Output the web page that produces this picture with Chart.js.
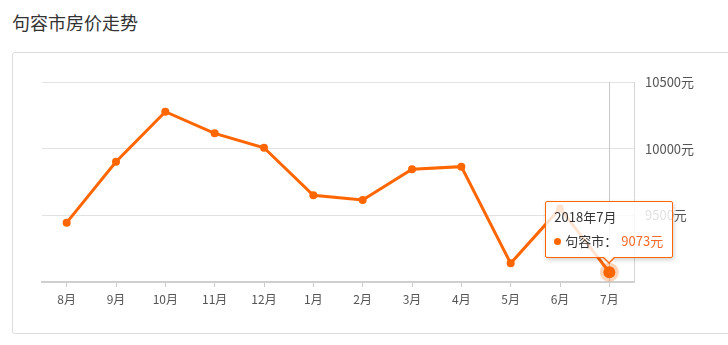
<!DOCTYPE html>
<html>
<head>
<meta charset="utf-8">
<script src="https://cdn.jsdelivr.net/npm/chart.js@4.4.1/dist/chart.umd.min.js"></script>
<style>
  html, body { margin: 0; padding: 0; background: #fff; width: 728px; height: 345px; overflow: hidden; }
  body { position: relative; font-family: "Noto Sans CJK SC", "Noto Sans", sans-serif; }
  #title { position: absolute; left: 12px; top: 9px; font-size: 18px; color: #333; line-height: 26px; }
  #card { position: absolute; left: 12px; top: 52px; width: 730px; height: 280px; border: 1px solid #ddd; border-radius: 3px; }
  #c { position: absolute; left: 0; top: 0; }
  #tip { position: absolute; background: rgba(255,255,255,0.82); border: 1px solid rgb(255,102,0); border-radius: 2px;
         box-shadow: 1px 2px 4px rgba(0,0,0,0.18); padding: 5px 9px 6px 8px; font-size: 13px; color: #333;
         white-space: nowrap; pointer-events: none; display: none; }
  #tip .t { line-height: 20px; }
  #tip .b { line-height: 20px; margin-top: 4px; }
  #tip .dot { display: inline-block; width: 7px; height: 7px; border-radius: 50%; background: #f60; margin-right: 4px; vertical-align: 1px; }
  #tip .v { color: #f5692a; margin-left: 4px; }
  #tip::before { content: ""; position: absolute; left: 50%; bottom: -7px; margin-left: -7px; border-left: 7px solid transparent; border-right: 7px solid transparent; border-top: 7px solid rgb(255,102,0); }
  #tip::after { content: ""; position: absolute; left: 50%; bottom: -5px; margin-left: -6px; border-left: 6px solid transparent; border-right: 6px solid transparent; border-top: 6px solid rgba(255,255,255,0.95); }
</style>
</head>
<body>
<div id="title">句容市房价走势</div>
<div id="card"></div>
<canvas id="c" width="728" height="345"></canvas>
<div id="tip"></div>
<script>
const seriesName = '句容市';
const months = ['8月','9月','10月','11月','12月','1月','2月','3月','4月','5月','6月','7月'];
const periods = ['2017年8月','2017年9月','2017年10月','2017年11月','2017年12月','2018年1月','2018年2月','2018年3月','2018年4月','2018年5月','2018年6月','2018年7月'];
const prices = [9445, 9902, 10277, 10115, 10007, 9650, 9615, 9845, 9865, 9140, 9552, 9073];
const yTicks = [9000, 9500, 10000, 10500];
const unit = '元';
const activeIndex = 11;

const ORANGE = '#f60';

const crosshair = {
  id: 'crosshair',
  beforeDatasetsDraw(chart) {
    const act = chart.getActiveElements();
    if (!act.length) return;
    const x = act[0].element.x;
    const { top, bottom } = chart.chartArea;
    const ctx = chart.ctx;
    ctx.save();
    ctx.strokeStyle = '#c8c8c8';
    ctx.lineWidth = 1;
    ctx.beginPath();
    ctx.moveTo(Math.round(x) + 0.5, top);
    ctx.lineTo(Math.round(x) + 0.5, bottom);
    ctx.stroke();
    ctx.restore();
  }
};

function externalTip(context) {
  const tip = document.getElementById('tip');
  const t = context.tooltip;
  if (!t || t.opacity === 0 || !t.dataPoints || !t.dataPoints.length) { tip.style.display = 'none'; return; }
  const dp = t.dataPoints[0];
  tip.innerHTML = '<div class="t">' + periods[dp.dataIndex] + '</div>' +
    '<div class="b"><span class="dot"></span>' + seriesName + '：<span class="v">' + prices[dp.dataIndex] + unit + '</span></div>';
  tip.style.display = 'block';
  const el = dp.element;
  const w = tip.offsetWidth, h = tip.offsetHeight;
  tip.style.left = (el.x - w / 2) + 'px';
  tip.style.top = (el.y - 14 - h) + 'px';
}

const chart = new Chart(document.getElementById('c'), {
  type: 'line',
  data: {
    labels: months,
    datasets: [{
      label: seriesName,
      data: prices,
      borderColor: ORANGE,
      backgroundColor: ORANGE,
      borderWidth: 3,
      pointRadius: 4,
      pointBackgroundColor: ORANGE,
      pointBorderWidth: 0,
      pointHoverRadius: 6,
      pointHoverBorderWidth: 7,
      pointHoverBorderColor: 'rgba(255,102,0,0.28)',
      pointHoverBackgroundColor: ORANGE,
      tension: 0
    }]
  },
  options: {
    responsive: false,
    devicePixelRatio: 1,
    animation: false,
    layout: { padding: { left: 42, top: 82, right: 0, bottom: 0 } },
    plugins: {
      legend: { display: false },
      tooltip: { enabled: false, external: externalTip, mode: 'index', intersect: false }
    },
    scales: {
      x: {
        offset: true,
        afterFit(s) { s.height = 63; },
        grid: { drawOnChartArea: false, drawTicks: true, tickLength: 5, color: '#ccc' },
        border: { display: true, color: '#cfcfcf', width: 2 },
        ticks: { color: '#555', font: { size: 12, family: '"Noto Sans CJK SC"' }, padding: 5, maxRotation: 0, autoSkip: false }
      },
      y: {
        position: 'right',
        min: yTicks[0],
        max: yTicks[yTicks.length - 1],
        afterFit(s) { s.width = 94; },
        afterBuildTicks(s) { s.ticks = yTicks.map(v => ({ value: v })); },
        grid: { drawTicks: false, color: '#e2e2e2' },
        border: { display: true, color: '#d6d6d6' },
        ticks: {
          color: '#555', padding: 11, font: { size: 13, family: '"Noto Sans CJK SC"' },
          callback(v) { return v === yTicks[0] ? '' : v + unit; }
        }
      }
    }
  },
  plugins: [crosshair]
});

const meta = chart.getDatasetMeta(0);
const pt = meta.data[activeIndex];
chart.setActiveElements([{ datasetIndex: 0, index: activeIndex }]);
chart.tooltip.setActiveElements([{ datasetIndex: 0, index: activeIndex }], { x: pt.x, y: pt.y });
chart.update('none');
</script>
</body>
</html>
